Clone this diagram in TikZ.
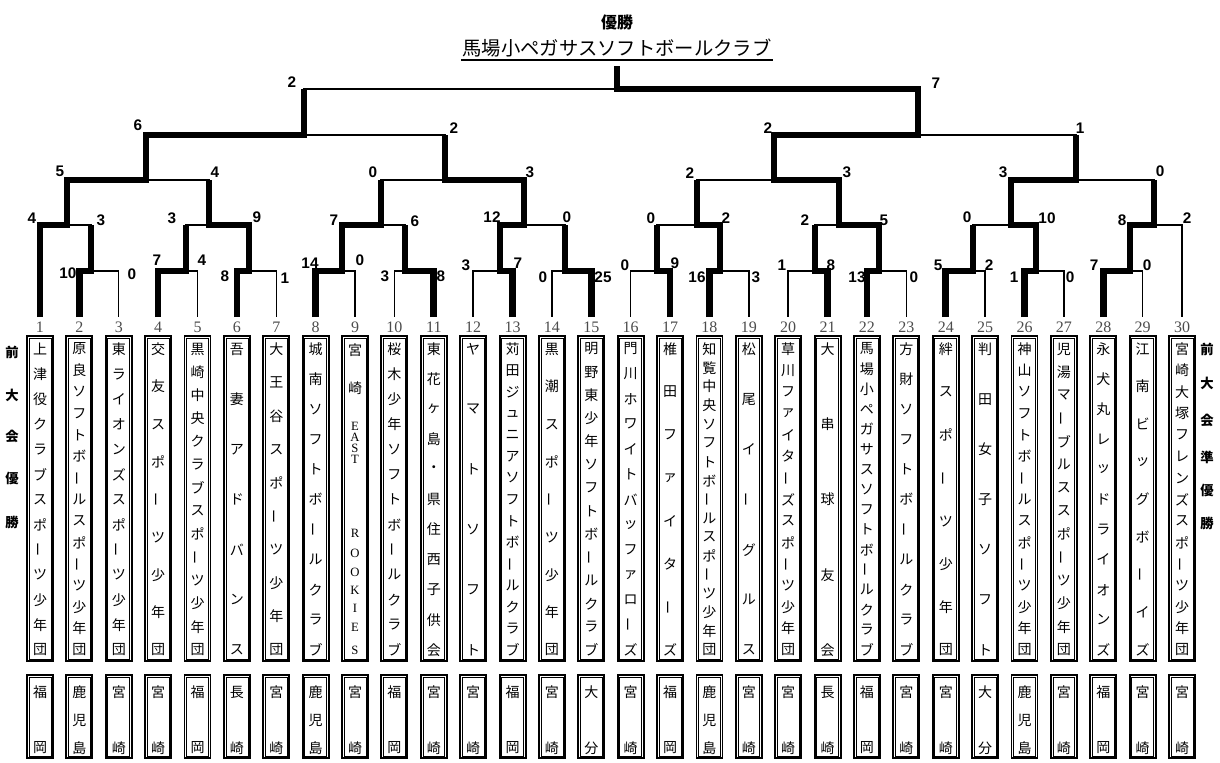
\documentclass[tikz,border=0pt]{standalone}
\usepackage{fontspec}
\setmainfont{Liberation Sans}
\newfontfamily\jp{Noto Sans CJK JP}
\newfontfamily\ser{Liberation Serif}
\newcommand\LV{\rotatebox[origin=c]{90}{ー}}
\newcommand\mt[4]{\draw[win] (#1) |- (#3) -- (#3 |- #4); \draw[lose] (#3) -| (#2);}
\newcommand\tbox[3]{%
 \pgfmathsetmacro\xx{40+(#1-1)*39.38}
 \node[nbox] (b#1) at (\xx,498.5) {};
 \draw[ibox] ([shift={(3,3)}]b#1.north west) rectangle ([shift={(-3,-3)}]b#1.south east);
 \node[pbox] (p#1) at (\xx,716.5) {};
 \draw[ibox] ([shift={(3,3)}]p#1.north west) rectangle ([shift={(-3,-3)}]p#1.south east);
 \foreach \cc [count=\k from 0] in {#3}{\node[ch] (q#1-\k) at (\xx,{692+\k*56/(#2-1)}) {\cc};}
 \node[num] (k#1) at (\xx,327) {#1};
 \coordinate (t#1) at (\xx,317);
}
\newcommand\tname[3]{%
 \pgfmathsetmacro\xx{40+(#1-1)*39.38}
 \foreach \cc [count=\k from 0] in {#3}{\node[ch] (c#1-\k) at (\xx,{349+\k*301/(#2-1)}) {\cc};}
}
\tikzset{
 win/.style={line width=5pt},
 lose/.style={line width=1.1pt},
 sc/.style={font=\bfseries\fontsize{11.5}{12}\selectfont, inner sep=0pt},
 num/.style={font=\ser\fontsize{12}{12}\selectfont, text=black!70, inner sep=0pt},
 ch/.style={font=\jp\fontsize{10.5}{11}\selectfont, inner sep=0pt},
 lat/.style={font=\ser\fontsize{9.5}{9.5}\selectfont, inner sep=0pt},
 side/.style={font=\jp\bfseries\fontsize{10}{10}\selectfont, inner sep=0pt},
 nbox/.style={draw, line width=1.4pt, minimum width=19.5pt, minimum height=243.75pt, inner sep=0pt},
 pbox/.style={draw, line width=1.4pt, minimum width=19.5pt, minimum height=62.25pt, inner sep=0pt},
 ibox/.style={line width=0.5pt},
}
\begin{document}
\begin{tikzpicture}[x=0.75pt,y=-0.75pt]
\useasboundingbox (0,0) rectangle (1220,763);
% title
\node[font=\jp\bfseries\fontsize{12}{12}\selectfont, inner sep=0pt] (yu) at (617,22) {優勝};
\node[font=\jp\fontsize{14.5}{14.5}\selectfont, inner sep=1pt] (champ) at (617,48) {馬場小ペガサスソフトボールクラブ};
\draw[line width=1.2pt] ([yshift=-1pt]champ.south west) -- ([yshift=-1pt]champ.south east);
% boxes
\tbox{1}{2}{福,岡}
\tbox{2}{3}{鹿,児,島}
\tbox{3}{2}{宮,崎}
\tbox{4}{2}{宮,崎}
\tbox{5}{2}{福,岡}
\tbox{6}{2}{長,崎}
\tbox{7}{2}{宮,崎}
\tbox{8}{3}{鹿,児,島}
\tbox{9}{2}{宮,崎}
\tbox{10}{2}{福,岡}
\tbox{11}{2}{宮,崎}
\tbox{12}{2}{宮,崎}
\tbox{13}{2}{福,岡}
\tbox{14}{2}{宮,崎}
\tbox{15}{2}{大,分}
\tbox{16}{2}{宮,崎}
\tbox{17}{2}{福,岡}
\tbox{18}{3}{鹿,児,島}
\tbox{19}{2}{宮,崎}
\tbox{20}{2}{宮,崎}
\tbox{21}{2}{長,崎}
\tbox{22}{2}{福,岡}
\tbox{23}{2}{宮,崎}
\tbox{24}{2}{宮,崎}
\tbox{25}{2}{大,分}
\tbox{26}{3}{鹿,児,島}
\tbox{27}{2}{宮,崎}
\tbox{28}{2}{福,岡}
\tbox{29}{2}{宮,崎}
\tbox{30}{2}{宮,崎}
% names
\tname{1}{13}{上,津,役,ク,ラ,ブ,ス,ポ,\LV,ツ,少,年,団}
\tname{2}{15}{原,良,ソ,フ,ト,ボ,\LV,ル,ス,ポ,\LV,ツ,少,年,団}
\tname{3}{13}{東,ラ,イ,オ,ン,ズ,ス,ポ,\LV,ツ,少,年,団}
\tname{4}{9}{交,友,ス,ポ,\LV,ツ,少,年,団}
\tname{5}{14}{黒,崎,中,央,ク,ラ,ブ,ス,ポ,\LV,ツ,少,年,団}
\tname{6}{7}{吾,妻,ア,ド,バ,ン,ス}
\tname{7}{10}{大,王,谷,ス,ポ,\LV,ツ,少,年,団}
\tname{8}{11}{城,南,ソ,フ,ト,ボ,\LV,ル,ク,ラ,ブ}
\node[ch] (c9-0) at (355,350) {宮};
\node[ch] (c9-1) at (355,388) {崎};
\node[lat] (c9-2) at (355,426) {E};
\node[lat] (c9-3) at (355,437) {A};
\node[lat] (c9-4) at (355,448) {S};
\node[lat] (c9-5) at (355,459) {T};
\node[lat] (c9-6) at (355,533) {R};
\node[lat] (c9-7) at (355,553) {O};
\node[lat] (c9-8) at (355,572) {O};
\node[lat] (c9-9) at (355,590) {K};
\node[lat] (c9-10) at (355,608) {I};
\node[lat] (c9-11) at (355,627) {E};
\node[lat] (c9-12) at (355,650) {S};
\tname{10}{13}{桜,木,少,年,ソ,フ,ト,ボ,\LV,ル,ク,ラ,ブ}
\tname{11}{11}{東,花,ヶ,島,・,県,住,西,子,供,会}
\tname{12}{6}{ヤ,マ,ト,ソ,フ,ト}
\tname{13}{15}{苅,田,ジ,ュ,ニ,ア,ソ,フ,ト,ボ,\LV,ル,ク,ラ,ブ}
\tname{14}{9}{黒,潮,ス,ポ,\LV,ツ,少,年,団}
\tname{15}{14}{明,野,東,少,年,ソ,フ,ト,ボ,\LV,ル,ク,ラ,ブ}
\tname{16}{13}{門,川,ホ,ワ,イ,ト,バ,ッ,フ,ァ,ロ,\LV,ズ}
\tname{17}{8}{椎,田,フ,ァ,イ,タ,\LV,ズ}
\tname{18}{17}{知,覧,中,央,ソ,フ,ト,ボ,\LV,ル,ス,ポ,\LV,ツ,少,年,団}
\tname{19}{7}{松,尾,イ,\LV,グ,ル,ス}
\tname{20}{15}{草,川,フ,ァ,イ,タ,\LV,ズ,ス,ポ,\LV,ツ,少,年,団}
\tname{21}{5}{大,串,球,友,会}
\tname{22}{16}{馬,場,小,ペ,ガ,サ,ス,ソ,フ,ト,ボ,\LV,ル,ク,ラ,ブ}
\tname{23}{11}{方,財,ソ,フ,ト,ボ,\LV,ル,ク,ラ,ブ}
\tname{24}{8}{絆,ス,ポ,\LV,ツ,少,年,団}
\tname{25}{7}{判,田,女,子,ソ,フ,ト}
\tname{26}{15}{神,山,ソ,フ,ト,ボ,\LV,ル,ス,ポ,\LV,ツ,少,年,団}
\tname{27}{14}{児,湯,マ,\LV,ブ,ル,ス,ス,ポ,\LV,ツ,少,年,団}
\tname{28}{11}{永,犬,丸,レ,ッ,ド,ラ,イ,オ,ン,ズ}
\tname{29}{9}{江,南,ビ,ッ,グ,ボ,\LV,イ,ズ}
\tname{30}{15}{宮,崎,大,塚,フ,レ,ン,ズ,ス,ポ,\LV,ツ,少,年,団}
% side labels
\foreach \cc/\yy [count=\k] in {前/352,大/395,会/436,優/478,勝/522}
  \node[side] (l\k) at (12,\yy) {\cc};
\foreach \cc/\yy [count=\k] in {前/349,大/383,会/420,準/457,優/490,勝/523}
  \node[side] (r\k) at (1207,\yy) {\cc};
% junctions
\coordinate (j23) at (91,271);
\coordinate (j45) at (186,271);
\coordinate (j67) at (249,271);
\coordinate (j89) at (342,271);
\coordinate (j1011) at (405,271);
\coordinate (j1213) at (500,271);
\coordinate (j1415) at (565,271);
\coordinate (j1617) at (657,271);
\coordinate (j1819) at (720,271);
\coordinate (j2021) at (815,271);
\coordinate (j2223) at (879,271);
\coordinate (j2425) at (973,271);
\coordinate (j2627) at (1036,271);
\coordinate (j2829) at (1130,271);
\coordinate (jA) at (67,225);
\coordinate (jB) at (209,225);
\coordinate (jC) at (381,225);
\coordinate (jD) at (524,225);
\coordinate (jE) at (697,225);
\coordinate (jF) at (839,225);
\coordinate (jG) at (1011,225);
\coordinate (jH) at (1154,225);
\coordinate (jAB) at (146,180);
\coordinate (jCD) at (445,180);
\coordinate (jEF) at (774,180);
\coordinate (jGH) at (1076,180);
\coordinate (jL) at (304,135);
\coordinate (jR) at (918,135);
\coordinate (jF0) at (617,89);
\coordinate (top) at (617,66);
% matches: winner, loser, junction, parent
\mt{t2}{t3}{j23}{jA}
\mt{t4}{t5}{j45}{jB}
\mt{t6}{t7}{j67}{jB}
\mt{t8}{t9}{j89}{jC}
\mt{t11}{t10}{j1011}{jC}
\mt{t13}{t12}{j1213}{jD}
\mt{t15}{t14}{j1415}{jD}
\mt{t17}{t16}{j1617}{jE}
\mt{t18}{t19}{j1819}{jE}
\mt{t21}{t20}{j2021}{jF}
\mt{t22}{t23}{j2223}{jF}
\mt{t24}{t25}{j2425}{jG}
\mt{t26}{t27}{j2627}{jG}
\mt{t28}{t29}{j2829}{jH}
\mt{t1}{j23}{jA}{jAB}
\mt{j67}{j45}{jB}{jAB}
\mt{j89}{j1011}{jC}{jCD}
\mt{j1213}{j1415}{jD}{jCD}
\mt{j1819}{j1617}{jE}{jEF}
\mt{j2223}{j2021}{jF}{jEF}
\mt{j2627}{j2425}{jG}{jGH}
\mt{j2829}{t30}{jH}{jGH}
\mt{jA}{jB}{jAB}{jL}
\mt{jD}{jC}{jCD}{jL}
\mt{jF}{jE}{jEF}{jR}
\mt{jG}{jH}{jGH}{jR}
\mt{jAB}{jCD}{jL}{jF0}
\mt{jEF}{jGH}{jR}{jF0}
\mt{jR}{jL}{jF0}{top}
% scores
\foreach \px/\py/\v [count=\k] in {
 292/82/2, 936/83/7,
 138/125/6, 454/128/2, 768/128/2, 1080/128/1,
 60/171/5, 215/172/4, 373/172/0, 530/172/3, 690/173/2, 847/172/3, 1003/172/3, 1160/171/0,
 32/218/4, 101/220/3, 172/218/3, 257/217/9, 334/220/7, 415/221/6, 492/217/12, 567/217/0,
 651/218/0, 726/218/2, 805/220/2, 884/220/5, 967/217/0, 1047/218/10, 1122/220/8, 1187/218/2,
 68/273/10, 132/274/0, 157/260/7, 202/260/4, 225/276/8, 285/278/1, 310/263/14, 360/260/0,
 385/276/3, 441/276/8, 466/265/3, 518/263/7, 543/277/0, 603/277/25, 625/265/0, 675/263/9,
 697/277/16, 756/277/3, 782/265/1, 831/265/8, 857/277/13, 914/277/0, 938/265/5, 989/265/2,
 1014/277/1, 1070/277/0, 1094/265/7, 1147/265/0}
 \node[sc] (s\k) at (\px,\py) {\v};
\end{tikzpicture}
\end{document}
